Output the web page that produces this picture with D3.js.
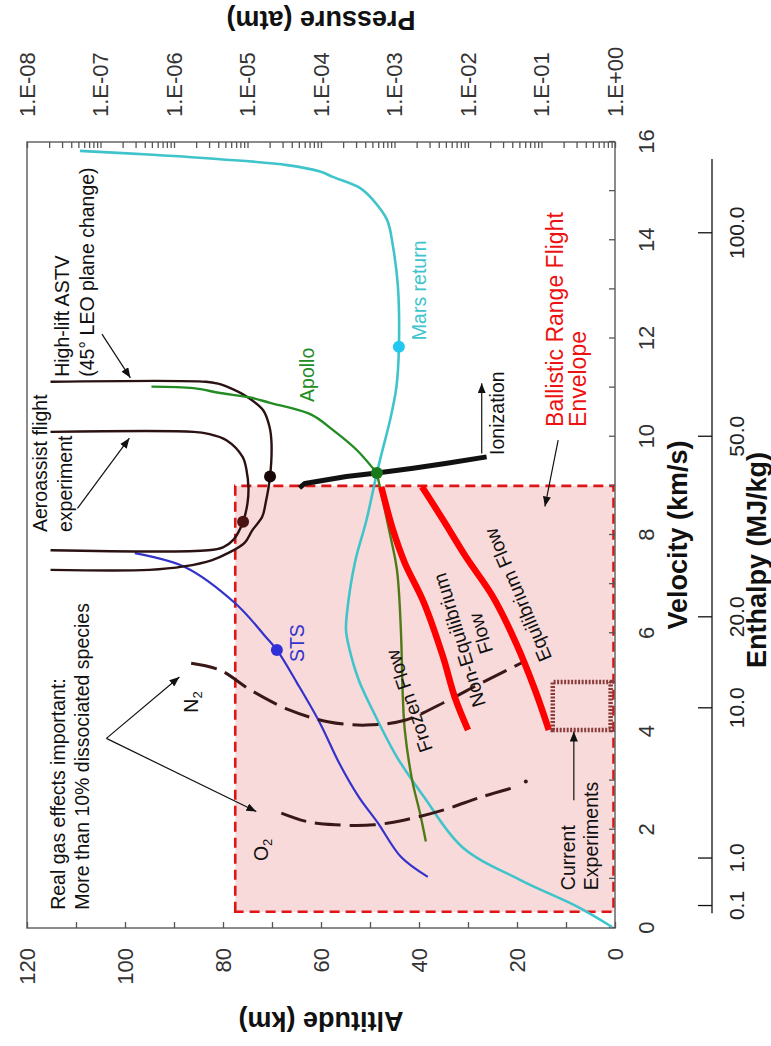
<!DOCTYPE html>
<html>
<head>
<meta charset="utf-8">
<script src="https://cdn.jsdelivr.net/npm/d3@7"></script>
<style>
  body { margin: 0; background: #fff; }
  svg { display: block; }
  text { font-family: "Liberation Sans", Arial, Helvetica, sans-serif; }
</style>
</head>
<body>
<svg id="chart" width="771" height="1046"></svg>
<script>
// ---- Trajectories: [velocity km/s, altitude km] ----
const marsReturn = [[15.82,109.2],[15.74,94.3],[15.65,80.6],[15.53,66.9],[15.40,60.2],[15.29,57.6],[15.06,52.0],[14.82,49.4],[14.41,46.5],[13.87,45.3],[13.05,44.3],[11.83,44.1],[11.02,44.6],[10.34,45.9],[9.67,47.6],[9.26,48.6],[8.31,50.7],[7.43,53.1],[6.41,54.7],[6.07,54.9],[5.72,54.3],[5.05,52.3],[4.38,49.2],[3.48,44.5],[2.67,39.0],[1.65,31.2],[0.98,19.4],[0.43,7.6],[0.02,0.6]];
const apollo = [[11.02,94.6],[10.99,86.0],[10.89,80.6],[10.80,74.5],[10.69,70.4],[10.45,62.0],[10.14,57.6],[9.73,52.7],[9.26,48.6],[8.10,46.1],[7.29,44.5],[6.07,43.7],[4.70,43.3],[4.03,42.9],[3.01,41.4],[2.34,39.8],[1.76,38.6]];
const sts = [[7.63,98.0],[7.35,87.8],[6.61,77.5],[5.93,71.3],[5.66,69.0],[4.99,64.9],[4.17,60.2],[3.36,56.3],[2.67,52.3],[2.14,48.4],[1.45,43.7],[1.04,38.2]];
const astvHighLift = [[11.12,115.2],[11.12,83.5],[11.08,81.0],[11.02,79.2],[10.82,75.2],[10.54,71.8],[10.20,70.5],[9.87,70.1],[9.19,70.4],[8.65,71.3],[8.37,72.0],[8.10,74.0],[7.84,75.6],[7.63,79.0],[7.49,82.2],[7.36,88.0],[7.29,95.0],[7.29,115.2]];
const aeroassistExp = [[10.10,115.2],[10.10,86.0],[10.06,83.0],[9.93,79.3],[9.59,76.0],[9.32,75.2],[8.95,74.8],[8.65,75.0],[8.27,75.9],[7.90,77.9],[7.75,80.0],[7.69,83.0],[7.69,115.2]];
const ionization = [[8.96,64.4],[9.05,63.3],[9.19,54.8],[9.26,48.6],[9.36,41.2],[9.46,34.3],[9.59,26.2]];
const n2Boundary = [[5.39,86.5],[5.25,80.6],[4.84,74.3],[4.44,66.5],[4.20,58.6],[4.13,50.8],[4.23,42.9],[4.58,35.1],[4.99,27.2],[5.42,18.6]];
const o2Boundary = [[2.34,68.1],[2.16,62.6],[2.10,57.1],[2.10,49.2],[2.20,42.9],[2.40,35.1],[2.67,27.2],[2.85,21.0]];
const nonEqBoundary = [[4.03,30.0],[4.70,32.7],[5.52,35.1],[6.62,39.0],[7.43,42.9],[8.10,45.3],[8.98,47.7]];
const eqBoundary = [[4.03,13.5],[4.84,16.3],[5.80,20.2],[6.74,24.9],[7.55,30.4],[8.31,35.1],[8.98,39.4]];

// Marked points on trajectories
const markers = [
  { v: 8.27, a: 75.9, color: "#4a1414" },
  { v: 9.19, a: 70.4, color: "#1a0808" },
  { v: 9.26, a: 48.6, color: "#1a7a1a" },
  { v: 5.66, a: 69.0, color: "#3030d8" },
  { v: 11.83, a: 44.1, color: "#22c8f0" }
];

// Regions
const envelopeV = [0.33, 9.0], envelopeA = [0.3, 77.5];
const experimentsV = [4.03, 5.01], experimentsA = [0.9, 12.7];

// Axes
const velocityTicks = d3.range(0, 17, 1);
const velocityLabels = d3.range(0, 17, 2);
const altitudeTicks = d3.range(0, 121, 10);
const altitudeLabels = d3.range(0, 121, 20);
const pressureDecades = [1e-8,1e-7,1e-6,1e-5,1e-4,1e-3,1e-2,1e-1,1];
const enthalpyLabels = [0.1, 1.0, 10.0, 20.0, 50.0, 100.0];

// ---- Layout: plot drawn in its natural frame, then turned a quarter turn ----
const W = 786, H = 588;
const svg = d3.select("#chart");
const g = svg.append("g").attr("transform", "translate(27,928) rotate(-90)");

const x = d3.scaleLinear().domain([0, 16]).range([0, W]);
const y = d3.scaleLinear().domain([0, 120]).range([H, 0]);
const pScale = d3.scaleLog().domain([1e-8, 1]).range([0, H]);
const hScale = d3.scaleSqrt().domain([0, 128]).range([0, W]); // h = v^2 / 2

const defs = svg.append("defs");
defs.append("marker").attr("id", "arrow")
  .attr("viewBox", "0 0 10 8").attr("refX", 10).attr("refY", 4)
  .attr("markerWidth", 10).attr("markerHeight", 8)
  .attr("markerUnits", "userSpaceOnUse").attr("orient", "auto")
  .append("path").attr("d", "M0,0 L10,4 L0,8 Z").attr("fill", "#111");

// Ballistic range flight envelope
g.append("rect")
  .attr("x", x(envelopeV[0])).attr("y", y(envelopeA[1]))
  .attr("width", x(envelopeV[1]) - x(envelopeV[0]))
  .attr("height", y(envelopeA[0]) - y(envelopeA[1]))
  .attr("fill", "#f9dada").attr("stroke", "#dd1515")
  .attr("stroke-width", 2.6).attr("stroke-dasharray", "10 6");

// Plot frame
g.append("rect").attr("x", 0).attr("y", 0).attr("width", W).attr("height", H)
  .attr("fill", "none").attr("stroke", "#666").attr("stroke-width", 1.5);

// Axes
const tickColor = "#555", labelColor = "#333";
function styleAxis(sel, fs) {
  sel.select(".domain").remove();
  sel.selectAll(".tick line").attr("stroke", tickColor).attr("stroke-width", 1.3);
  sel.selectAll(".tick text").attr("fill", labelColor).attr("font-size", fs)
    .attr("font-family", "'Liberation Sans', Arial, sans-serif");
}

// Velocity (bottom of frame)
g.append("g").attr("transform", `translate(0,${H})`)
  .call(d3.axisBottom(x).tickValues(velocityTicks).tickSizeInner(-6).tickSizeOuter(0).tickPadding(23)
    .tickFormat(d => velocityLabels.includes(d) ? d : ""))
  .call(s => styleAxis(s, 22));

// Altitude (left of frame)
g.append("g")
  .call(d3.axisLeft(y).tickValues(altitudeTicks).tickSizeInner(-6).tickSizeOuter(0).tickPadding(20)
    .tickFormat(d => altitudeLabels.includes(d) ? d : ""))
  .call(s => styleAxis(s, 22));

// Pressure (right of frame), log ticks
const pressureTicks = [];
pressureDecades.slice(0, -1).forEach(d => { for (let k = 1; k < 10; k++) pressureTicks.push(d * k); });
pressureTicks.push(1);
const fmtP = d => {
  const e = Math.round(Math.log10(d));
  return "1.E" + (e < 0 ? "-" : "+") + String(Math.abs(e)).padStart(2, "0");
};
g.append("g").attr("transform", `translate(${W},0)`)
  .call(d3.axisRight(pScale).tickValues(pressureTicks).tickSizeInner(-6).tickSizeOuter(0).tickPadding(25)
    .tickFormat(d => pressureDecades.some(p => Math.abs(p - d) / p < 1e-6) ? fmtP(d) : ""))
  .call(s => styleAxis(s, 22));

// Enthalpy scale below velocity axis
const hAxisY = 685;
const hAxis = g.append("g").attr("transform", `translate(0,${hAxisY})`)
  .call(d3.axisBottom(hScale).tickValues(enthalpyLabels).tickSizeInner(-14).tickSizeOuter(0).tickPadding(17)
    .tickFormat(d3.format(".1f")));
hAxis.select(".domain").remove();
hAxis.selectAll(".tick line").attr("stroke", "#111").attr("stroke-width", 1.3);
hAxis.selectAll(".tick text").attr("fill", "#222").attr("font-size", 21);
hAxis.append("line").attr("x1", hScale(0.045)).attr("x2", hScale(122.5))
  .attr("stroke", "#111").attr("stroke-width", 1.3);

// Axis titles
g.append("text").attr("x", W / 2).attr("y", 651).attr("dy", "0.35em")
  .attr("text-anchor", "middle").attr("font-weight", "bold").attr("font-size", 27)
  .attr("fill", "#111").text("Velocity (km/s)");
g.append("text").attr("x", 368).attr("y", 730).attr("dy", "0.35em")
  .attr("text-anchor", "middle").attr("font-weight", "bold").attr("font-size", 27)
  .attr("fill", "#111").text("Enthalpy (MJ/kg)");
g.append("text").attr("transform", `translate(-93,${H / 2}) rotate(-90)`).attr("dy", "0.35em")
  .attr("text-anchor", "middle").attr("font-weight", "bold").attr("font-size", 27)
  .attr("fill", "#111").text("Altitude (km)");
g.append("text").attr("transform", `translate(908,${H / 2}) rotate(-90)`).attr("dy", "0.35em")
  .attr("text-anchor", "middle").attr("font-weight", "bold").attr("font-size", 27)
  .attr("fill", "#111").text("Pressure (atm)");

// Curves
const smooth = d3.line().x(d => x(d[0])).y(d => y(d[1])).curve(d3.curveCatmullRom.alpha(0.5));
const straight = d3.line().x(d => x(d[0])).y(d => y(d[1]));
function drawCurve(data, color, width, dash, gen) {
  return g.append("path").datum(data).attr("d", gen || smooth)
    .attr("fill", "none").attr("stroke", color).attr("stroke-width", width)
    .attr("stroke-linejoin", "round").attr("stroke-dasharray", dash || null);
}
drawCurve(marsReturn, "#40c4cc", 2.6);
drawCurve(sts, "#3333cc", 2.2);
drawCurve(astvHighLift, "#2b1212", 2.4);
drawCurve(aeroassistExp, "#2b1212", 2.4);
drawCurve(apollo.slice(0, 9), "#228b22", 2.4);
drawCurve(apollo.slice(8), "#4f7a18", 2.4);
drawCurve(n2Boundary, "#3a1818", 3, "26 9");
drawCurve(o2Boundary, "#3a1818", 3, "26 9");
g.append("circle").attr("cx", x(2.98)).attr("cy", y(18.2)).attr("r", 2).attr("fill", "#3a1818");
drawCurve(nonEqBoundary, "#ff0000", 6.5);
drawCurve(eqBoundary, "#ff0000", 6.5);
drawCurve(ionization, "#111", 5, null, straight);

// Current experiments box
g.append("rect")
  .attr("x", x(experimentsV[0])).attr("y", y(experimentsA[1]))
  .attr("width", x(experimentsV[1]) - x(experimentsV[0]))
  .attr("height", y(experimentsA[0]) - y(experimentsA[1]))
  .attr("fill", "none").attr("stroke", "#8a3a3a").attr("stroke-width", 4.5)
  .attr("stroke-dasharray", "2 1.5");

// Point markers
g.selectAll("circle.marker").data(markers).join("circle").attr("class", "marker")
  .attr("cx", d => x(d.v)).attr("cy", d => y(d.a)).attr("r", 6).attr("fill", d => d.color);

// Arrows
const arrows = [
  [[12.09,104.7],[11.20,98.9]],
  [[8.54,109.7],[9.97,99.1]],
  [[3.86,103.8],[5.11,88.9]],
  [[3.86,103.8],[2.37,73.2]],
  [[9.66,27.2],[11.09,27.2]],
  [[9.93,11.6],[8.58,14.3]],
  [[2.60,8.4],[4.00,8.4]]
];
g.selectAll("line.arrow").data(arrows).join("line").attr("class", "arrow")
  .attr("x1", d => x(d[0][0])).attr("y1", d => y(d[0][1]))
  .attr("x2", d => x(d[1][0])).attr("y2", d => y(d[1][1]))
  .attr("stroke", "#111").attr("stroke-width", 1.2).attr("marker-end", "url(#arrow)");

// Annotations
const notes = [
  { t: "High-lift ASTV", v: 11.22, a: 112.8, anchor: "start" },
  { t: "(45\u00b0 LEO plane change)", v: 11.22, a: 107.8, anchor: "start" },
  { t: "Aeroassist flight", v: 8.06, a: 117.3, anchor: "start" },
  { t: "experiment", v: 8.06, a: 112.2, anchor: "start" },
  { t: "Real gas effects important:", v: 0.37, a: 113.6, anchor: "start" },
  { t: "More than 10% dissociated species", v: 0.37, a: 108.7, anchor: "start" },
  { t: "Apollo", v: 11.26, a: 62.9, color: "#228b22" },
  { t: "Mars return", v: 12.98, a: 39.9, color: "#40c4cc" },
  { t: "Ionization", v: 10.48, a: 24.1 },
  { t: "STS", v: 5.80, a: 64.9, color: "#3333cc" },
  { t: "Ballistic Range Flight", v: 10.2, a: 12.2, anchor: "start", color: "#ee1111", size: 23 },
  { t: "Envelope", v: 10.2, a: 7.5, anchor: "start", color: "#ee1111", size: 23 },
  { t: "Current", v: 0.77, a: 9.6, anchor: "start" },
  { t: "Experiments", v: 0.77, a: 4.9, anchor: "start" },
  { t: "Frozen Flow", v: 4.62, a: 42.0, rot: -19 },
  { t: "Equilibrium Flow", v: 6.78, a: 19.8, rot: -23 }
];
g.selectAll("text.note").data(notes).join("text").attr("class", "note")
  .attr("transform", d => `translate(${x(d.v)},${y(d.a)}) rotate(${d.rot || 0})`)
  .attr("dy", "0.35em").attr("text-anchor", d => d.anchor || "middle")
  .attr("font-size", d => d.size || 19.5).attr("fill", d => d.color || "#111")
  .text(d => d.t);

// Two-line label between the flow boundaries
const ne = g.append("text").attr("transform", `translate(${x(5.93)},${y(29.5)}) rotate(-17)`)
  .attr("text-anchor", "middle").attr("font-size", 19.5).attr("fill", "#111");
ne.append("tspan").attr("x", 0).attr("dy", "-0.25em").text("Non-Equilibrium");
ne.append("tspan").attr("x", 0).attr("dy", "1.15em").text("Flow");

// Species labels with subscripts
function species(sym, v, a) {
  const t = g.append("text").attr("transform", `translate(${x(v)},${y(a)})`)
    .attr("text-anchor", "middle").attr("dy", "0.35em").attr("font-size", 19.5).attr("fill", "#111");
  t.append("tspan").text(sym);
  t.append("tspan").attr("font-size", 13).attr("dy", "0.3em").text("2");
}
species("N", 4.60, 86.5);
species("O", 1.59, 72.2);
</script>
</body>
</html>
